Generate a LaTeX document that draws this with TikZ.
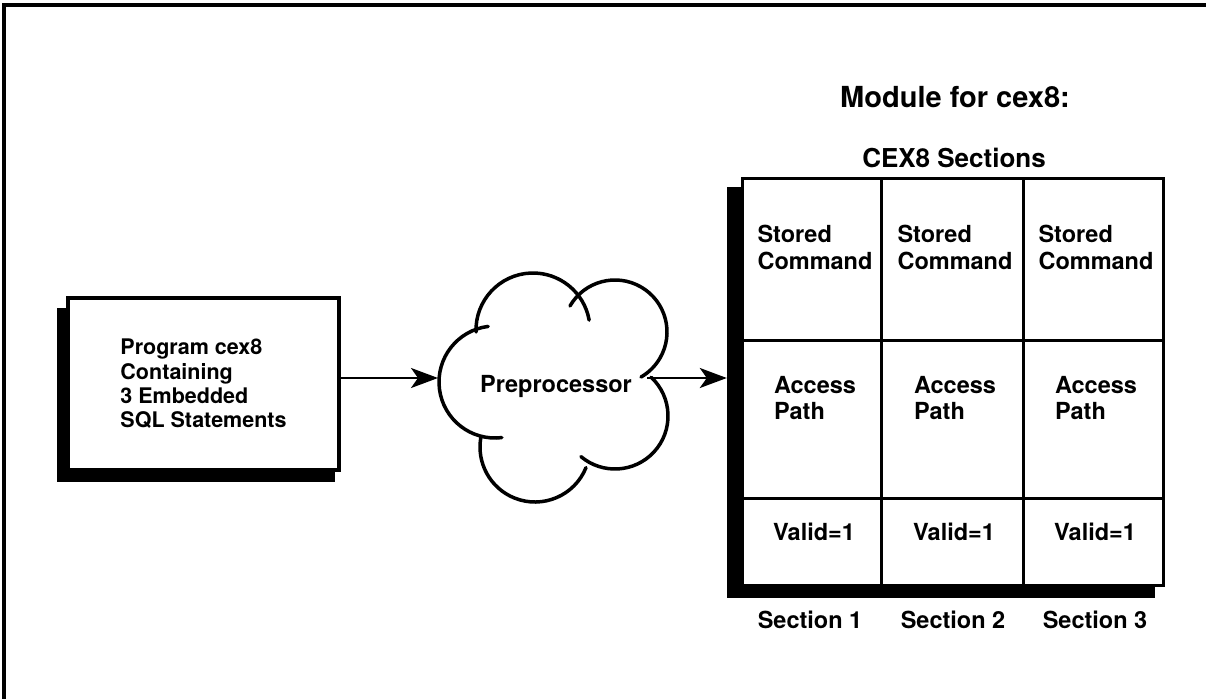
\documentclass[tikz,border=0pt]{standalone}
\usepackage{fontspec}
\setmainfont{TeX Gyre Heros}
\usetikzlibrary{arrows.meta}
\newcommand\myfs[2]{\fontsize{#1}{#2}\selectfont\bfseries}
\begin{document}
\begin{tikzpicture}[x=1pt,y=-1pt,
  lbl/.style={font=\myfs{23.5}{26.5}, inner sep=0pt, align=left},
  arr/.style={line width=2.5pt, -{Stealth[length=27pt,width=20pt,inset=7pt]}},
  cloudline/.style={line width=3.5pt, line cap=round},
  box/.style={draw, line width=3.5pt, fill=white},
  gridline/.style={line width=3pt},
  shadow/.style={fill=black, inner sep=0pt}]
\useasboundingbox (0,0) rectangle (1206,698);
% outer frame
\draw[line width=3.5pt] (4,700) -- (4,5) -- (1208,5);

% program box with shadow
\fill (57,308) rectangle (335,482);
\node[box, minimum width=271pt, minimum height=172pt, align=left,
      font=\myfs{21.5}{24.3}] (prog) at (203.5,384)
  {Program cex8\\Containing\\3 Embedded\\SQL Statements};

% cloud
\draw[cloudline] (495,382) ++(263:56) arc[start angle=263, end angle=83, radius=56];
\draw[cloudline] (533,330) ++(178:57) arc[start angle=178, end angle=350, radius=57];
\draw[cloudline] (615,332) ++(210:52) arc[start angle=210, end angle=420, radius=52];
\draw[cloudline] (615,416) ++(-47:53) arc[start angle=-47, end angle=130, radius=53];
\draw[cloudline] (535,447) ++(22:55) arc[start angle=22, end angle=191, radius=55];
\coordinate (cloudW) at (438,378);
\coordinate (cloudE) at (647,378);
\node[lbl, anchor=base] (pre) at (556,392) {Preprocessor};

% module grid
\node[shadow, minimum width=428pt, minimum height=411pt] (gshadow) at (941,392.5) {};
\node[draw, fill=white, line width=3pt, inner sep=0pt, minimum width=421pt,
      minimum height=407pt] (grid) at (952.5,381.5) {};
\draw[gridline] (881.5,178) -- (881.5,585);
\draw[gridline] (1023,178) -- (1023,585);
\draw[gridline] (742,340) -- (1163,340);
\draw[gridline] (742,498) -- (1163,498);

% arrows
\draw[arr] (prog.east |- cloudW) -- (cloudW);
\draw[arr] (cloudE) -- (gshadow.west |- cloudE);

% titles
\node[inner sep=0pt, font=\myfs{29}{32}, anchor=base] (title) at (955,107) {Module for cex8:};
\node[inner sep=0pt, font=\myfs{26}{29}, anchor=base] (sect) at (954,167) {CEX8 Sections};

% cell texts
\node[lbl, anchor=north] (s1) at (815,225) {Stored\\Command};
\node[lbl, anchor=north] (s2) at (955,225) {Stored\\Command};
\node[lbl, anchor=north] (s3) at (1096,225) {Stored\\Command};
\node[lbl, anchor=north] (a1) at (815,376) {Access\\Path};
\node[lbl, anchor=north] (a2) at (955,376) {Access\\Path};
\node[lbl, anchor=north] (a3) at (1096,376) {Access\\Path};
\node[lbl, anchor=base] (v1) at (814,540) {Valid=1};
\node[lbl, anchor=base] (v2) at (954,540) {Valid=1};
\node[lbl, anchor=base] (v3) at (1095,540) {Valid=1};

% section labels
\node[lbl, anchor=base] (l1) at (810,628) {Section 1};
\node[lbl, anchor=base] (l2) at (953,628) {Section 2};
\node[lbl, anchor=base] (l3) at (1095,628) {Section 3};
\end{tikzpicture}
\end{document}
